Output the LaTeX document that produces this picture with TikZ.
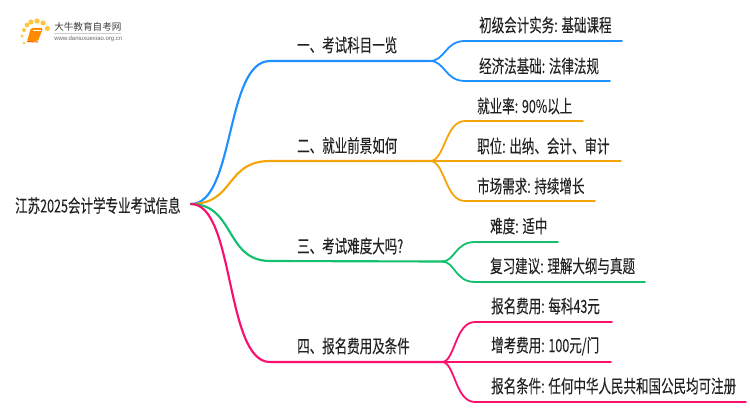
\documentclass[tikz,border=0pt]{standalone}
\usepackage{fontspec}
\setmainfont[FakeBold=0.12]{Noto Sans CJK SC}
\newfontfamily\plainf{Noto Sans CJK SC}
\newfontfamily\latinf{Liberation Sans}
\definecolor{cblue}{HTML}{1E90FF}
\definecolor{corange}{HTML}{F5A50A}
\definecolor{cgreen}{HTML}{12C06E}
\definecolor{cpink}{HTML}{FA0F6E}
\definecolor{ctext}{HTML}{222222}
\tikzset{
  x=0.75pt,y=-0.75pt,
  lbl/.style={anchor=west,inner sep=0pt,text=ctext,font=\fontsize{13.6pt}{14pt}\selectfont,xscale=0.69},
  branch/.style={line width=1.6pt,line cap=round},
  twig/.style={line width=1.35pt,line cap=round},
}
\begin{document}
\begin{tikzpicture}
\useasboundingbox (0,0) rectangle (750,410);
\fill[white] (0,0) rectangle (750,410);
% logo
\foreach \a/\b/\r in {22/36/1.6,24/30/2,27/25/2.4,31/22/2.6,37/21/2.7,43/23/2.6,47.5/28.5/2.6,24/43/1.3}
  \fill[orange!60!yellow,opacity=.75] (\a,\b) circle (\r);
\fill[orange!90!yellow,rounded corners=1pt] (31,28) -- (43,28) -- (38,41) -- (27,41) -- cycle;
\draw[white,line width=.5pt] (33,30) -- (41,30);
\draw[orange!80!red,line width=.8pt] (27,41.5) -- (38,42);
\node[anchor=west,inner sep=0pt,text=black!75,font=\plainf\fontsize{7.2pt}{8pt}\selectfont] (logot) at (54,27) {大牛教育自考网};
\draw[black!20,line width=.4pt] (54,33.5) -- (121,33.5);
\node[anchor=west,inner sep=0pt,text=black!60,font=\latinf\fontsize{4.5pt}{5pt}\selectfont] (logou) at (54,38.5) {www.daniuxuexiao.org.cn};
% nodes
\node[lbl] (root) at (15,205.5) {江苏2025会计学专业考试信息};
\coordinate (o) at (191,204);
\node[lbl] (b1) at (297,45) {一、考试科目一览};
\node[lbl] (b2) at (297,145.5) {二、就业前景如何};
\node[lbl] (b3) at (297,246) {三、考试难度大吗?};
\node[lbl] (b4) at (297,346) {四、报名费用及条件};
\node[lbl] (a1) at (479,25) {初级会计实务: 基础课程};
\node[lbl] (a2) at (479,66) {经济法基础: 法律法规};
\node[lbl] (c1) at (477,106) {就业率: 90\%以上};
\node[lbl] (c2) at (477,146) {职位: 出纳、会计、审计};
\node[lbl] (c3) at (477,186) {市场需求: 持续增长};
\node[lbl] (d1) at (490,226) {难度: 适中};
\node[lbl] (d2) at (490,266) {复习建议: 理解大纲与真题};
\node[lbl] (e1) at (491,306) {报名费用: 每科43元};
\node[lbl] (e2) at (491,346) {增考费用: 100元/门};
\node[lbl] (e3) at (491,386) {报名条件: 任何中华人民共和国公民均可注册};
% coordinates
\foreach \n/\x/\y in {p1/270/61,q1/430/61,r11/465/41,s11/622/41,r12/465/81,s12/610/81,
  p2/270/161,q2/430/161,r21/465/121,s21/583/121,s22/621/161,r23/465/201,s23/595/201,
  p3/270/261,q3/442/261.5,r31/475/242,s31/558/242,r32/475/282,s32/645/282,
  p4/270/362,q4/442/362,r41/475/322,s41/612/322,s42/611/362,r43/475/402,s43/746/402}
  {\coordinate (\n) at (\x,\y);}
% blue
\draw[branch,cblue] (o) .. controls (235,204) and (225,61) .. (p1) -- (q1);
\draw[twig,cblue] (q1) .. controls (445,61) and (445,41) .. (r11) -- (s11);
\draw[twig,cblue] (q1) .. controls (445,61) and (445,81) .. (r12) -- (s12);
% orange
\draw[branch,corange] (o) .. controls (235,204) and (225,161) .. (p2) -- (q2);
\draw[twig,corange] (q2) .. controls (445,161) and (445,121) .. (r21) -- (s21);
\draw[twig,corange] (q2) -- (s22);
\draw[twig,corange] (q2) .. controls (445,161) and (445,201) .. (r23) -- (s23);
% green
\draw[branch,cgreen] (o) .. controls (235,204) and (225,261) .. (p3) -- (q3);
\draw[twig,cgreen] (q3) .. controls (455,261.5) and (455,242) .. (r31) -- (s31);
\draw[twig,cgreen] (q3) .. controls (455,261.5) and (455,282) .. (r32) -- (s32);
% pink
\draw[branch,cpink] (o) .. controls (235,204) and (225,362) .. (p4) -- (q4);
\draw[twig,cpink] (q4) .. controls (455,362) and (455,322) .. (r41) -- (s41);
\draw[twig,cpink] (q4) -- (s42);
\draw[twig,cpink] (q4) .. controls (455,362) and (455,402) .. (r43) -- (s43);
\end{tikzpicture}
\end{document}
